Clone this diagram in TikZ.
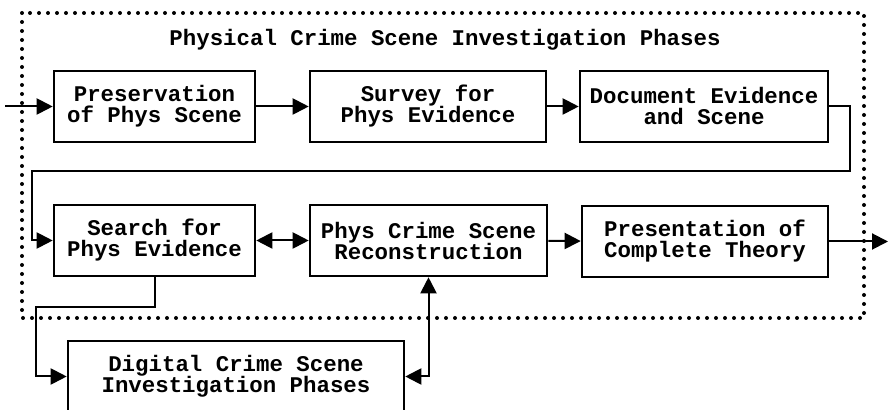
\documentclass[tikz,border=0pt]{standalone}
\usepackage{fontspec}
\setmonofont{Liberation Mono}
\usetikzlibrary{arrows.meta}
\tikzset{
	phase/.style={draw, line width=1.3pt, minimum height=35.5pt, align=center,
		inner sep=2pt, font=\ttfamily\bfseries\fontsize{11.2}{10.5}\selectfont},
	flow/.style={line width=1pt, -{Triangle[length=8pt,width=8pt]}},
	bothflow/.style={line width=1pt, {Triangle[length=8pt,width=8pt]}-{Triangle[length=8pt,width=8pt]}},
}
\begin{document}
\begin{tikzpicture}[x=0.5pt, y=-0.5pt]
			\clip (0,0) rectangle (889,410);
			
			% Physical phases frame
			\draw[line width=2pt, dash pattern=on 0pt off 4.5pt, line cap=round] (22,13) rectangle (864,318);
			\node[font=\ttfamily\bfseries\fontsize{11.2}{12}\selectfont] (title) at (445,40) {Physical Crime Scene Investigation Phases};
			
			% Row 1
			\node[phase, minimum width=100.5pt] (pres) at (154.5,106.5) {Preservation\\of Phys Scene};
			\node[phase, minimum width=118pt] (surv) at (428,106.5) {Survey for\\Phys Evidence};
			\node[phase, minimum width=124pt] (docu) at (704,106.5) {Document Evidence\\and Scene};
			
			% Row 2
			\node[phase, minimum width=100.5pt] (srch) at (154.5,240.5) {Search for\\Phys Evidence};
			\node[phase, minimum width=118.5pt] (reco) at (428.5,240.5) {Phys Crime Scene\\Reconstruction};
			\node[phase, minimum width=123pt] (pres2) at (705,241.5) {Presentation of\\Complete Theory};
			
			% Digital phases
			\node[phase, minimum width=168pt] (digi) at (236,376.5) {Digital Crime Scene\\Investigation Phases};
			
			\coordinate (in) at (5,106.5);
			\coordinate (out) at (888,241.5);
			\coordinate (turn1) at (850,171);
			\coordinate (turn2) at (32,171);
			\coordinate (turn3) at (36,307);
			
			\draw[flow] (in) -- (pres);
			\draw[flow] (pres) -- (surv);
			\draw[flow] (surv) -- (docu);
			\draw[flow] (docu.east) -| (turn1) -- (turn2) |- (srch.west);
			\draw[bothflow] (srch) -- (reco);
			\draw[flow] (reco) -- (pres2);
			\draw[flow] (pres2) -- (out);
			\draw[flow] (srch.south) |- (turn3) |- (digi.west);
			\draw[bothflow] (reco.south) |- (digi.east);
		\end{tikzpicture}
\end{document}
